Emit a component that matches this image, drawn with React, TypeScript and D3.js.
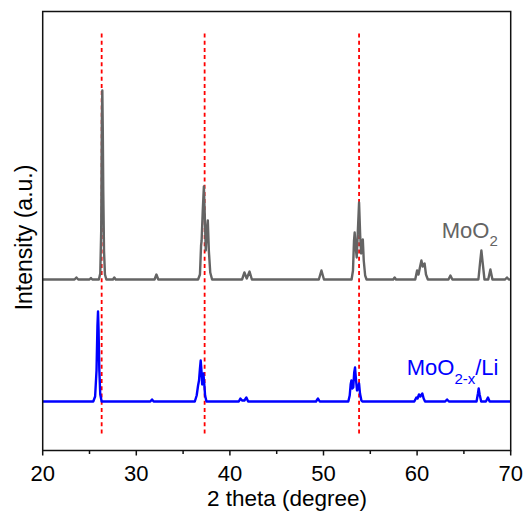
import React from "react";
import * as d3 from "d3";

// 2θ (degree), intensity (a.u., offset stacked)
const moo2Theta = [20, 23.4, 23.6, 23.8, 25.0, 25.15, 25.3, 26.0, 26.15, 26.25, 26.32, 26.37, 26.42, 26.47, 26.55, 26.65, 26.8, 27.5, 27.65, 27.8, 31.95, 32.15, 32.35, 36.6, 36.8, 36.92, 36.98, 37.1, 37.22, 37.3, 37.42, 37.5, 37.64, 37.75, 37.9, 38.1, 41.3, 41.55, 41.8, 42.1, 42.35, 49.5, 49.78, 50.05, 53.0, 53.15, 53.26, 53.33, 53.42, 53.55, 53.65, 53.8, 53.92, 54.02, 54.12, 54.2, 54.3, 54.45, 54.6, 57.45, 57.6, 57.75, 59.8, 60.0, 60.15, 60.3, 60.46, 60.6, 60.8, 60.95, 61.15, 63.35, 63.56, 63.77, 66.55, 66.75, 66.87, 66.98, 67.2, 67.6, 67.83, 68.05, 69.4, 69.6, 69.8, 70];
const moo2Int = [171, 171, 173, 171, 171, 172.5, 171, 171, 177, 220, 330, 360, 320, 260, 200, 176, 171, 171, 173, 171, 171, 176, 171, 171, 176, 205, 210, 240, 264, 240, 200, 215, 230, 200, 178, 171, 171, 178, 172, 179, 171, 171, 180, 171, 171, 180, 210, 218, 205, 193, 215, 248, 215, 197, 208, 211, 190, 175, 171, 171, 173, 171, 171, 180, 176, 183, 190, 184, 187, 176, 171, 171, 175, 171, 171, 190, 200, 190, 171, 171, 181, 171, 171, 173, 171, 171];

const liTheta = [20, 25.4, 25.6, 25.75, 25.85, 25.91, 25.97, 26.05, 26.15, 26.3, 31.5, 31.68, 31.85, 36.25, 36.45, 36.6, 36.7, 36.8, 36.88, 36.96, 37.04, 37.1, 37.17, 37.25, 37.35, 37.5, 40.95, 41.12, 41.3, 41.55, 41.76, 41.95, 49.2, 49.41, 49.6, 52.65, 52.8, 52.9, 52.98, 53.08, 53.18, 53.28, 53.37, 53.46, 53.58, 53.7, 53.8, 53.9, 54.05, 54.15, 59.7, 59.92, 60.05, 60.2, 60.35, 60.56, 60.7, 60.85, 63.0, 63.2, 63.4, 66.35, 66.5, 66.58, 66.68, 66.85, 67.35, 67.57, 67.75, 70];
const liInt = [49, 49, 54, 80, 125, 139, 120, 80, 56, 49, 49, 51, 49, 49, 55, 65, 70, 82, 90, 80, 66, 72, 77, 68, 55, 49, 49, 52, 50, 50, 53, 49, 49, 52, 49, 49, 55, 66, 70, 62, 63, 78, 83, 72, 60, 62, 67, 57, 50, 49, 49, 53, 52, 56, 54, 57, 52, 49, 49, 51, 49, 49, 57, 62, 56, 49, 49, 53, 49, 49];

const refLines = [26.3, 37.3, 53.8];
const refLineSpan = [15, 417];
const majorTicks = [20, 30, 40, 50, 60, 70];
const minorTicks = [25, 35, 45, 55, 65];

export default function App() {
  const left = 42.7, right = 510.7, top = 11.5, bottom = 450.5;
  const x = d3.scaleLinear().domain([20, 70]).range([left, right]);
  const y = d3.scaleLinear().domain([0, 439]).range([bottom, top]);
  const line = d3
    .line<number>()
    .x((d) => x(d))
    .y((_, i) => 0);

  const mk = (th: number[], iv: number[]) =>
    d3
      .line<[number, number]>()
      .x((d) => x(d[0]))
      .y((d) => y(d[1]))(th.map((t, i) => [t, iv[i]] as [number, number])) || "";

  void line;
  const font = "'Liberation Sans', Arial, sans-serif";

  return (
    <svg
      width={527}
      height={512}
      style={{ position: "absolute", left: 0, top: 0, background: "#fff" }}
      fontFamily={font}
    >
      <rect width={527} height={512} fill="#fff" />
      {refLines.map((v) => (
        <line
          key={v}
          x1={x(v)}
          x2={x(v)}
          y1={y(refLineSpan[1])}
          y2={y(refLineSpan[0])}
          stroke="#ff0000"
          strokeWidth={1.8}
          strokeDasharray="4,3.2"
        />
      ))}
      <path d={mk(moo2Theta, moo2Int)} fill="none" stroke="#646464" strokeWidth={2.4} strokeLinejoin="round" />
      <path d={mk(liTheta, liInt)} fill="none" stroke="#0000ff" strokeWidth={2.4} strokeLinejoin="round" />
      <rect
        x={left}
        y={top}
        width={right - left}
        height={bottom - top}
        fill="none"
        stroke="#111"
        strokeWidth={1.5}
      />
      {majorTicks.map((t) => (
        <g key={t}>
          <line x1={x(t)} x2={x(t)} y1={bottom} y2={bottom + 5} stroke="#111" strokeWidth={1.5} />
          <text x={x(t)} y={481} fontSize={22} textAnchor="middle" fill="#000">
            {t}
          </text>
        </g>
      ))}
      {minorTicks.map((t) => (
        <line key={t} x1={x(t)} x2={x(t)} y1={bottom} y2={bottom + 3.5} stroke="#111" strokeWidth={1.5} />
      ))}
      <text x={287} y={506} fontSize={22.5} textAnchor="middle" fill="#000">
        2 theta (degree)
      </text>
      <text
        transform="translate(32,237.5) rotate(-90)"
        fontSize={23}
        textAnchor="middle"
        fill="#000"
      >
        Intensity (a.u.)
      </text>
      <text x={441.7} y={238} fontSize={22} fill="#646464">
        MoO
        <tspan fontSize={15} dy={8}>2</tspan>
      </text>
      <text x={406.7} y={375} fontSize={22} fill="#0000ff">
        MoO
        <tspan fontSize={15} dy={9}>2-x</tspan>
        <tspan dy={-9}>/Li</tspan>
      </text>
    </svg>
  );
}
